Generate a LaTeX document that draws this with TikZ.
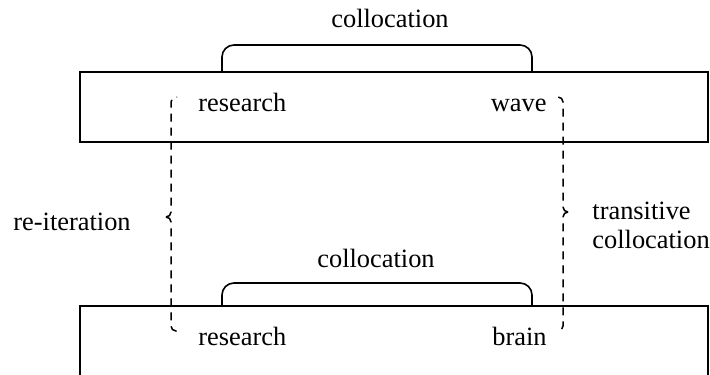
\documentclass[tikz,border=0pt]{standalone}
\usepackage{fontspec}
\setmainfont{Liberation Serif}
\tikzset{
  word/.style={anchor=base west, inner sep=0pt, font=\fontsize{13.2}{15}\selectfont},
  box/.style={line width=1pt},
  link/.style={line width=0.8pt, rounded corners=6pt},
  tie/.style={line width=0.75pt, dash pattern=on 4pt off 3pt, rounded corners=2.5pt}
}
\begin{document}
\begin{tikzpicture}[x=0.5pt, y=-0.5pt]
      \useasboundingbox (0,0) rectangle (710,374);
      \clip (0,0) rectangle (710,374);
      \draw
        (198,112) node[word] (r1){research}
        (547,112) node[word, anchor=base east] (wave){wave}
        (198,345) node[word] (r2){research}
        (547,345) node[word, anchor=base east] (brain){brain}
        (390,28) node[word, anchor=base] (c1){collocation}
        (376,267) node[word, anchor=base] (c2){collocation}
        (13,230) node[word] (reit){re-iteration}
        (592,219) node[word] (trans){transitive}
        (592,248) node[word] (tcoll){collocation};
      \coordinate (a1) at (222,72);
      \coordinate (b1) at (532,72);
      \coordinate (a2) at (222,306);
      \coordinate (b2) at (532,306);
      \coordinate (ltip) at (166,217);
      \coordinate (rtip) at (568,212);
      \begin{scope}[-]
        \draw[box] (80,72) rectangle (708,142);
        \draw[box] (80,390) |- (708,306) -- (708,390);
        \draw[link] (a1) |- (382,45) -| (b1);
        \draw[link] (a2) |- (382,283) -| (b2);
        \draw[tie] (ltip) -| (171,97) -- (177,97);
        \draw[tie] (ltip) -| (171,331) -- (177,331);
        \draw[tie] (rtip) -| (563,97) -- (557,97);
        \draw[tie] (rtip) -| (563,331) -- (557,331);
      \end{scope}
    \end{tikzpicture}
\end{document}
